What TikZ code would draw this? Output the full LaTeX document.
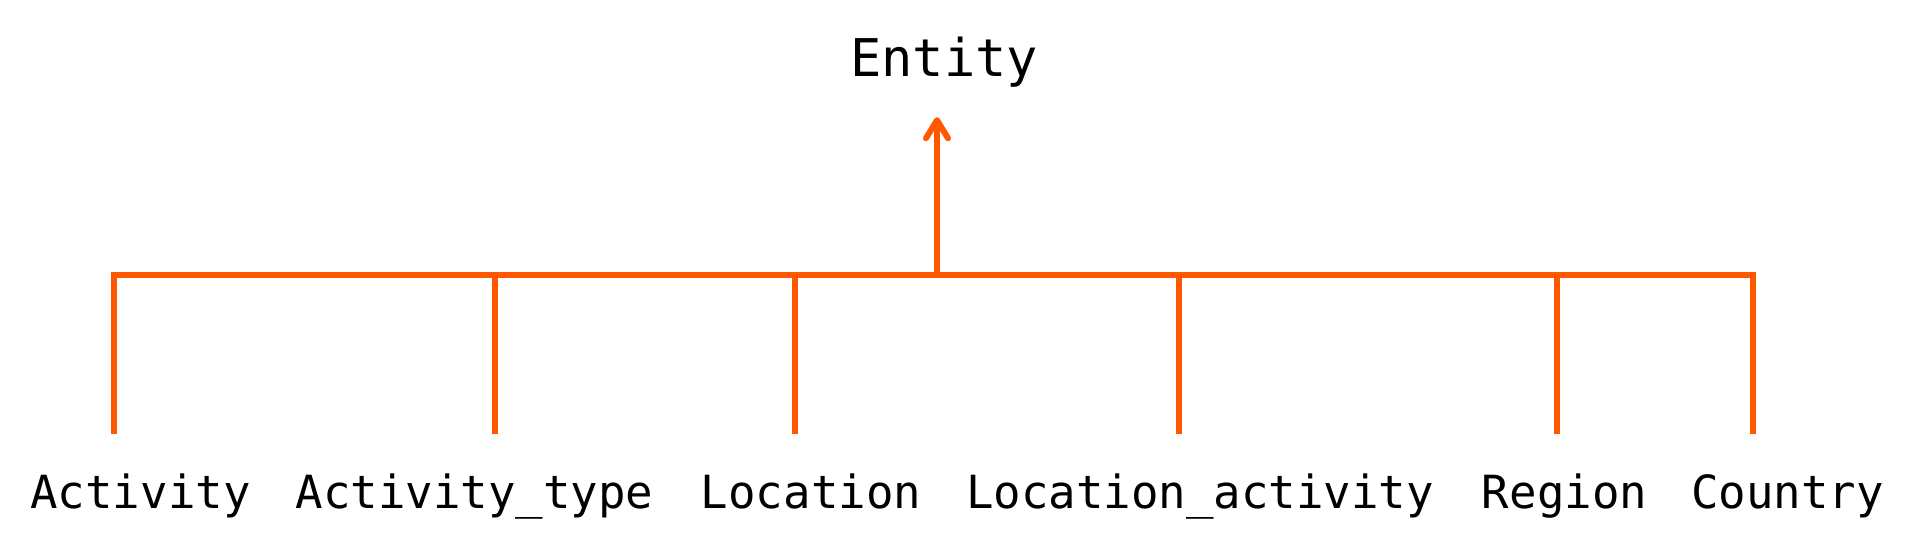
\documentclass[tikz,border=0pt]{standalone}
\usepackage{fontspec}
\setmonofont{DejaVu Sans Mono}
\usetikzlibrary{arrows.meta}
\definecolor{bus}{RGB}{255,88,0}
\begin{document}
\begin{tikzpicture}[x=0.5pt,y=-0.5pt,
  link/.style={draw=bus,line width=3pt,line join=miter},
  lbl/.style={anchor=base,inner sep=0pt,font=\ttfamily\fontsize{22.85}{27}\selectfont},
  headlbl/.style={anchor=base,inner sep=0pt,font=\ttfamily\fontsize{26}{30}\selectfont}]
\useasboundingbox (0,0) rectangle (1915,552);
\node[headlbl] (entity) at (944,76) {Entity};
\coordinate (hub) at (937,275);
\foreach \i/\x in {1/114,2/495,3/795,4/1179,5/1557,6/1753}{
  \coordinate (t\i) at (\x,275);
  \coordinate (b\i) at (\x,434);
}
\node[lbl] (l1) at (140.5,508) {Activity};
\node[lbl] (l2) at (474.5,508) {Activity\_type};
\node[lbl] (l3) at (811,508) {Location};
\node[lbl] (l4) at (1200,508) {Location\_activity};
\node[lbl] (l5) at (1564.5,508) {Region};
\node[lbl] (l6) at (1787.5,508) {Country};
\draw[link] (b1) -- (t1) -- (t6) -- (b6);
\foreach \i in {2,3,4,5}{ \draw[link] (t\i) -- (b\i); }
\draw[link,-{Straight Barb[length=9pt,width=11pt,line cap=round,line join=round]},shorten >=15pt] (hub) -- (hub |- entity.south);
\end{tikzpicture}
\end{document}
